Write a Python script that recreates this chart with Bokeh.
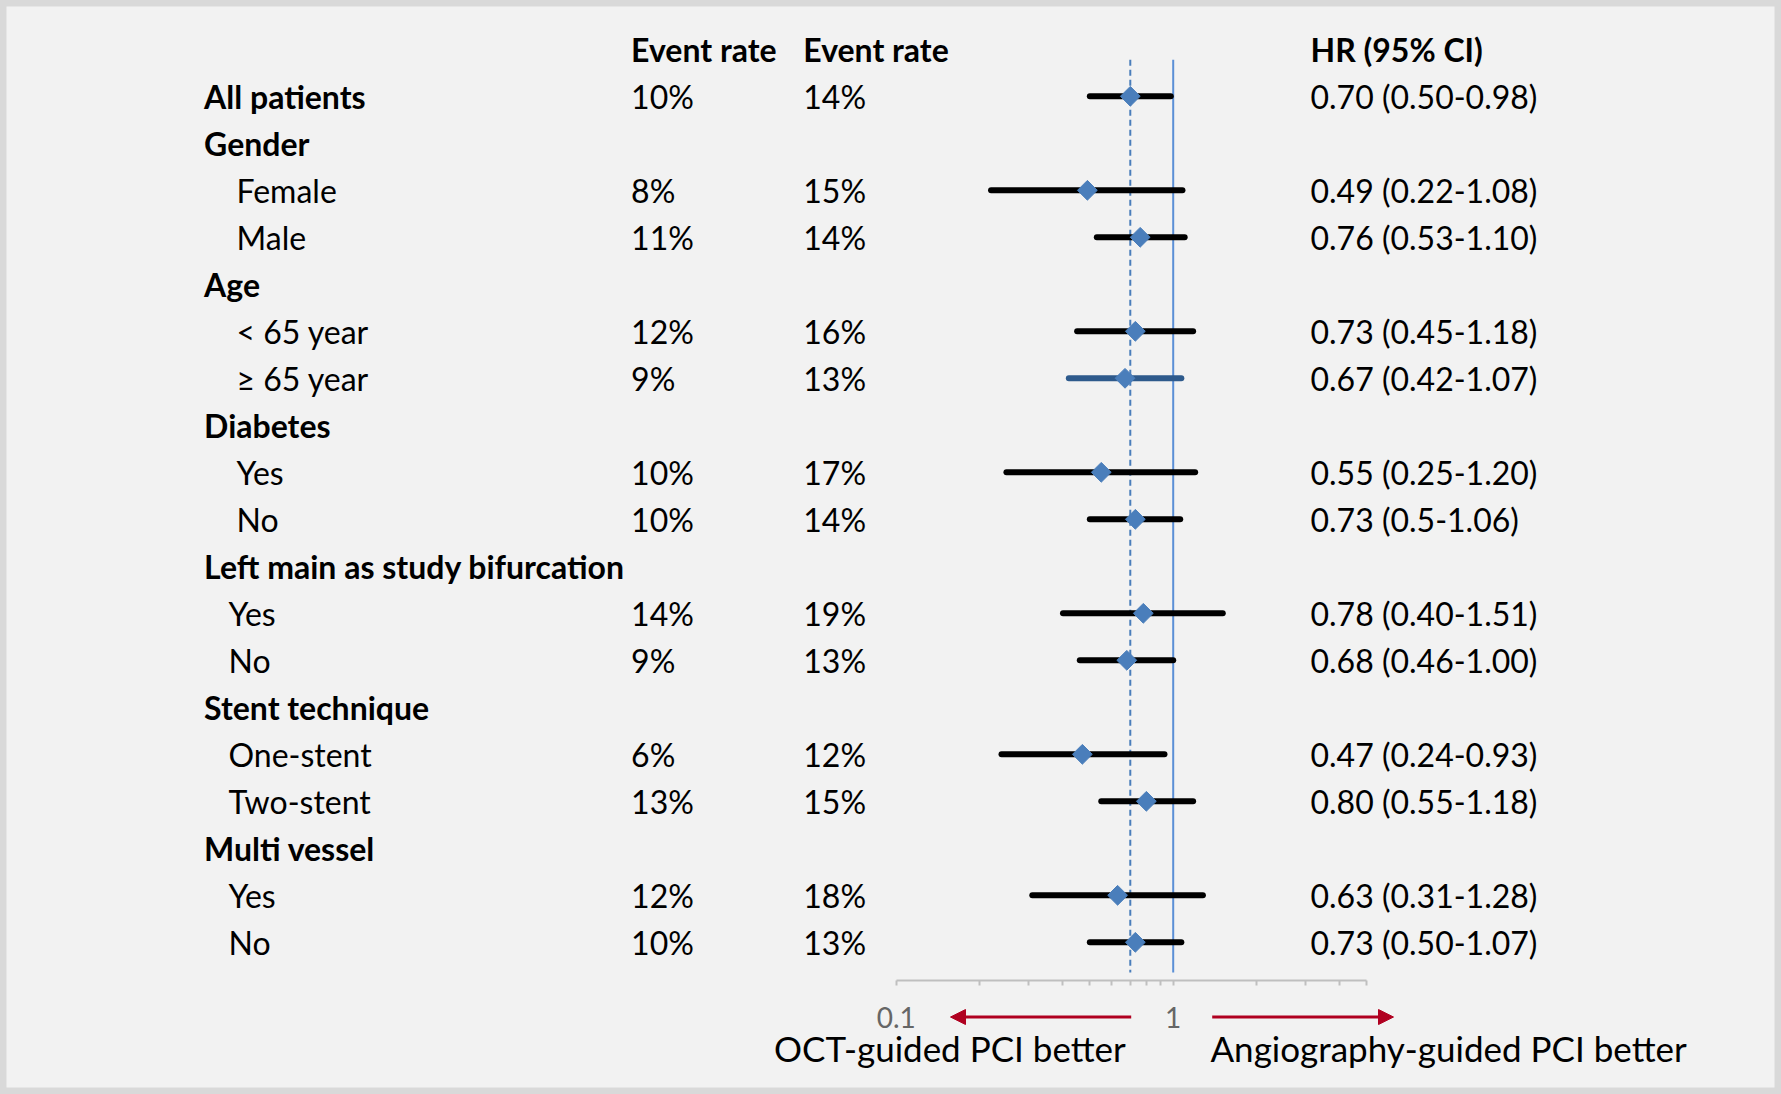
import numpy as np
from bokeh.plotting import figure
from bokeh.models import (Range1d, LogScale, LogAxis, FixedTicker, ColumnDataSource,
                          Arrow, NormalHead, CustomJSTickFormatter)
from bokeh.core.properties import value
from bokeh.embed import file_html
from bokeh.resources import INLINE

# ---------------- data ----------------
labels = ["All patients", "Gender", "Female", "Male", "Age", "< 65 year", "\u2265 65 year",
          "Diabetes", "Yes", "No", "Left main as study bifurcation", "Yes", "No",
          "Stent technique", "One-stent", "Two-stent", "Multi vessel", "Yes", "No"]
level = [0, 0, 1, 1, 0, 1, 1, 0, 1, 1, 0, 2, 2, 0, 2, 2, 0, 2, 2]
rate_oct = ["10%", "", "8%", "11%", "", "12%", "9%", "", "10%", "10%", "", "14%", "9%",
            "", "6%", "13%", "", "12%", "10%"]
rate_angio = ["14%", "", "15%", "14%", "", "16%", "13%", "", "17%", "14%", "", "19%", "13%",
              "", "12%", "15%", "", "18%", "13%"]
hr = [0.70, None, 0.49, 0.76, None, 0.73, 0.67, None, 0.55, 0.73, None, 0.78, 0.68,
      None, 0.47, 0.80, None, 0.63, 0.73]
hr_lo = [0.50, None, 0.22, 0.53, None, 0.45, 0.42, None, 0.25, 0.50, None, 0.40, 0.46,
         None, 0.24, 0.55, None, 0.31, 0.50]
hr_hi = [0.98, None, 1.08, 1.10, None, 1.18, 1.07, None, 1.20, 1.06, None, 1.51, 1.00,
         None, 0.93, 1.18, None, 1.28, 1.07]
hr_text = ["0.70 (0.50-0.98)", "", "0.49 (0.22-1.08)", "0.76 (0.53-1.10)", "",
           "0.73 (0.45-1.18)", "0.67 (0.42-1.07)", "", "0.55 (0.25-1.20)", "0.73 (0.5-1.06)",
           "", "0.78 (0.40-1.51)", "0.68 (0.46-1.00)", "", "0.47 (0.24-0.93)",
           "0.80 (0.55-1.18)", "", "0.63 (0.31-1.28)", "0.73 (0.50-1.07)"]
headers = ["Event rate", "Event rate", "HR (95% CI)"]
ref_null = 1.0
ref_overall = 0.70
major_ticks = [0.1, 1]
minor_ticks = [0.2, 0.3, 0.4, 0.5, 0.6, 0.7, 0.8, 0.9, 2, 3, 4, 5]
axis_bounds = (0.1, 5)
left_note = "OCT-guided PCI better"
right_note = "Angiography-guided PCI better"

# ---------------- layout ----------------
W, H = 1781, 1094
ROW0, ROWH = 48.8, 47.0
FONT = value("Lato")
FS = "32px"
BLUE = "#4a7ebb"
RED = "#b00020"

p = figure(width=W, height=H, output_backend="svg", toolbar_location=None,
           x_range=Range1d(0, W), y_range=Range1d((H - ROW0) / ROWH, -ROW0 / ROWH),
           x_axis_type=None, y_axis_type=None, min_border=0)
p.grid.visible = False
p.background_fill_color = "#f2f2f2"
p.border_fill_color = "#f2f2f2"
p.outline_line_color = "#d9d9d9"
p.outline_line_width = 12

# log scale for the forest part: 0.1 -> px 895.7, 1 -> px 1172.7
X01, X1 = 895.7, 1172.7
D = X1 - X01
p.extra_x_ranges = {"hr": Range1d(10 ** (-1 - X01 / D), 10 ** ((W - X1) / D))}
p.extra_x_scales = {"hr": LogScale()}

n = len(labels)
rows = list(range(1, n + 1))
label_x = {0: 203.6, 1: 236.0, 2: 228.0}
COL1, COL2, COL3 = 630.6, 802.8, 1310.0

# headers
p.text(x=[COL1, COL2, COL3], y=[0, 0, 0], text=headers, text_font=FONT, text_font_size=FS,
       text_font_style="bold", text_baseline="middle", text_color="black")

# category labels
bold_idx = [i for i in range(n) if level[i] == 0]
norm_idx = [i for i in range(n) if level[i] != 0]
p.text(x=[label_x[level[i]] for i in bold_idx], y=[rows[i] for i in bold_idx],
       text=[labels[i] for i in bold_idx], text_font=FONT, text_font_size=FS,
       text_font_style="bold", text_baseline="middle", text_color="black")
p.text(x=[label_x[level[i]] for i in norm_idx], y=[rows[i] for i in norm_idx],
       text=[labels[i] for i in norm_idx], text_font=FONT, text_font_size=FS,
       text_baseline="middle", text_color="black")

# value columns
p.text(x=[COL1] * n, y=rows, text=rate_oct, text_font=FONT, text_font_size=FS,
       text_baseline="middle", text_color="black")
p.text(x=[COL2] * n, y=rows, text=rate_angio, text_font=FONT, text_font_size=FS,
       text_baseline="middle", text_color="black")
p.text(x=[COL3] * n, y=rows, text=hr_text, text_font=FONT, text_font_size=FS,
       text_baseline="middle", text_color="black")

# reference lines
LINE_TOP, LINE_BOT = 0.22, 19.64
p.segment(x0=[ref_null], x1=[ref_null], y0=[LINE_TOP], y1=[LINE_BOT], x_range_name="hr",
          line_color="#5b8fd6", line_width=2)
p.segment(x0=[ref_overall], x1=[ref_overall], y0=[LINE_TOP], y1=[LINE_BOT], x_range_name="hr",
          line_color=BLUE, line_width=2, line_dash="6 4")

# CIs and point estimates
idx = [i for i in range(n) if hr[i] is not None]
ci_colors = ["#2e5a8c" if labels[i].startswith("\u2265") else "black" for i in idx]
src = ColumnDataSource(dict(y=[rows[i] for i in idx], hr=[hr[i] for i in idx],
                            lo=[hr_lo[i] for i in idx], hi=[hr_hi[i] for i in idx],
                            c=ci_colors))
p.segment(x0="lo", x1="hi", y0="y", y1="y", source=src, x_range_name="hr",
          line_color="c", line_width=6, line_cap="round")
p.scatter(x="hr", y="y", source=src, x_range_name="hr", marker="square", size=14,
          angle=np.pi / 4, fill_color=BLUE, line_color=BLUE)

# axis
AXIS_ROW = 19.81
ax = LogAxis(x_range_name="hr", ticker=FixedTicker(ticks=major_ticks, minor_ticks=minor_ticks),
             bounds=axis_bounds, fixed_location=AXIS_ROW,
             formatter=CustomJSTickFormatter(code="return tick.toString()"))
ax.axis_line_color = "#bfbfbf"
ax.axis_line_width = 2
ax.major_tick_line_color = "#bfbfbf"
ax.minor_tick_line_color = "#bfbfbf"
ax.major_tick_line_width = 2
ax.minor_tick_line_width = 2
ax.major_tick_in = 0
ax.major_tick_out = 5
ax.minor_tick_in = 0
ax.minor_tick_out = 5
ax.major_label_text_font = "Lato"
ax.major_label_text_font_size = "28px"
ax.major_label_text_color = "#666666"
ax.major_label_standoff = 22
p.add_layout(ax, "below")

# arrows and notes
ARROW_ROW = 20.59
p.add_layout(Arrow(end=NormalHead(size=15, fill_color=RED, line_color=RED),
                   x_start=1130.7, y_start=ARROW_ROW, x_end=950.0, y_end=ARROW_ROW,
                   line_color=RED, line_width=3))
p.add_layout(Arrow(end=NormalHead(size=15, fill_color=RED, line_color=RED),
                   x_start=1211.7, y_start=ARROW_ROW, x_end=1393.0, y_end=ARROW_ROW,
                   line_color=RED, line_width=3))
NOTE_ROW = 21.24
p.text(x=[773.5, 1210.0], y=[NOTE_ROW, NOTE_ROW], text=[left_note, right_note],
       text_font=FONT, text_font_size="35px", text_baseline="middle", text_color="black")

open("out.html", "w").write(file_html(p, INLINE))
